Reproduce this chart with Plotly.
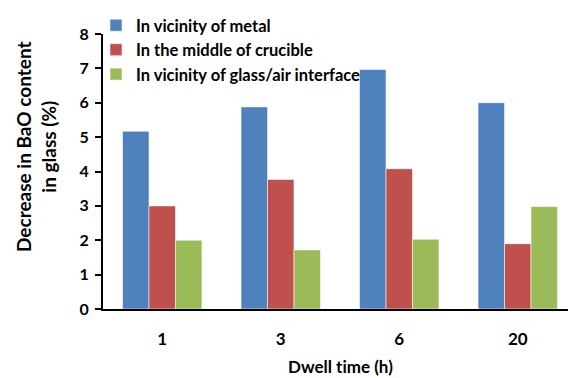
import plotly.graph_objects as go

categories = ["1", "3", "6", "20"]
series_names = ["In vicinity of metal", "In the middle of crucible", "In vicinity of glass/air interface"]
metal = [5.17, 5.88, 6.97, 6.0]
middle = [3.0, 3.77, 4.08, 1.9]
interface = [2.0, 1.72, 2.03, 2.98]
colors = ["#4F81BD", "#C0504D", "#9BBB59"]

FONT = "Lato"
L, R, T, B = 103, 0, 34, 69
W, H = 568, 378
pw = W - L - R
ph = H - T - B

def px2x(px):
    return (px - L) / pw

def py2y(py):
    return (H - B - py) / ph

fig = go.Figure()
for i, (name, vals) in enumerate(zip(series_names, [metal, middle, interface])):
    fig.add_trace(go.Bar(
        x=categories, y=vals, name=name, legendgroup=f"g{i}",
        marker=dict(color=colors[i], line=dict(color="rgba(255,255,255,0.55)", width=1)),
    ))

fig.update_layout(
    width=W, height=H,
    margin=dict(l=L, r=R, t=T, b=B),
    plot_bgcolor="white", paper_bgcolor="white",
    barmode="group", bargap=0.33, bargroupgap=0,
    font=dict(family=FONT, size=15, color="black"),
    showlegend=True,
    legend=dict(
        x=px2x(96), y=py2y(8), xanchor="left", yanchor="top",
        bgcolor="rgba(0,0,0,0)", tracegroupgap=0,
        font=dict(family=FONT, size=16.5, color="black", weight="bold"),
        itemwidth=30,
    ),
    xaxis=dict(
        type="category", range=[-0.5, 3.424],
        showline=True, linecolor="black", linewidth=2,
        ticks="", showgrid=False, ticklabelstandoff=14,
        tickfont=dict(family=FONT, size=17, weight="bold"),
    ),
    yaxis=dict(
        range=[0, 8], dtick=1,
        showline=True, linecolor="black", linewidth=2,
        ticks="outside", ticklen=6, tickwidth=2, tickcolor="black",
        showgrid=False, zeroline=False, ticklabelstandoff=3,
        tickfont=dict(family=FONT, size=16, weight="bold"),
    ),
    annotations=[
        dict(text="Decrease in BaO content<br>in glass (%)", textangle=-90,
             x=px2x(36), y=py2y(147), xref="paper", yref="paper",
             xanchor="center", yanchor="middle", showarrow=False,
             font=dict(family=FONT, size=19, weight="bold")),
        dict(text="Dwell t\u200cime (h)", x=px2x(340), y=py2y(366),
             xref="paper", yref="paper", xanchor="center", yanchor="middle",
             showarrow=False,
             font=dict(family=FONT, size=17, weight="bold")),
    ],
)

fig.write_html("out.html")
